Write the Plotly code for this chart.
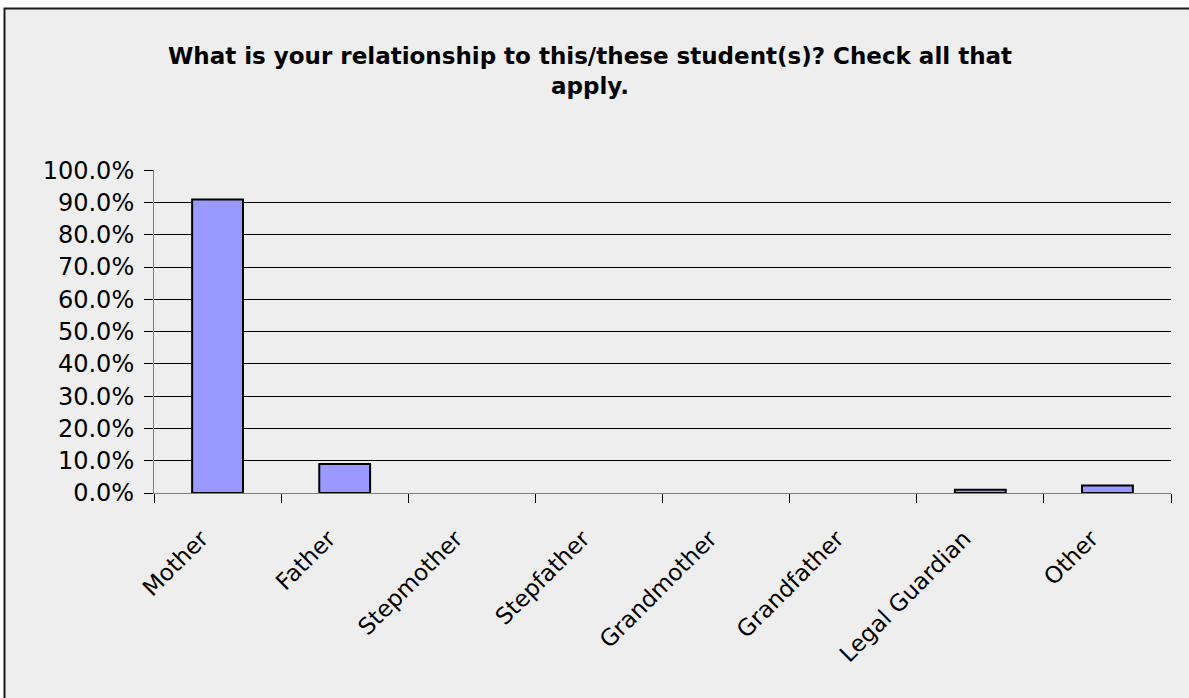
import plotly.graph_objects as go

categories = ["Mother", "Father", "Stepmother", "Stepfather", "Grandmother",
              "Grandfather", "Legal Guardian", "Other"]
values = [0.909, 0.090, 0.0, 0.0, 0.0, 0.0, 0.010, 0.023]
title = "What is your relationship to this/these student(s)? Check all that<br>apply."

W, H = 1189, 698
L, R, T, B = 154, 18, 170, 205
pw, ph = W - L - R, H - T - B

fig = go.Figure(
    go.Bar(
        x=categories,
        y=values,
        width=0.4,
        marker=dict(
            color="#9999ff",
            # empty categories draw no outline
            line=dict(color="black", width=[2 if v > 0 else 0 for v in values]),
        ),
    )
)

# outer chart-area frame
fig.add_shape(
    type="rect", xref="paper", yref="paper", layer="below",
    x0=(4.5 - L) / pw, x1=(W + 10 - L) / pw,
    y0=-(H + 10 - T - ph) / ph, y1=(T + ph - 8.5) / ph,
    fillcolor="#eeeeee", line=dict(color="#1a1a1a", width=2),
)

fig.update_layout(
    width=W, height=H,
    margin=dict(l=L, r=R, t=T, b=B),
    paper_bgcolor="white",
    plot_bgcolor="rgba(0,0,0,0)",
    font=dict(family="DejaVu Sans", color="black", size=20),
    title=dict(
        text=title, x=590 / W, xanchor="center",
        y=1 - 64 / H, yanchor="top",
        font=dict(family="DejaVu Sans", size=23, color="black", weight="bold",
                  lineposition="none"),
    ),
    showlegend=False,
    bargap=0.6,
)
fig.update_xaxes(
    tickangle=-45, tickson="boundaries", ticks="outside", ticklen=9,
    tickcolor="black", showline=True, linecolor="#808080", linewidth=1,
    showgrid=False, tickfont=dict(size=23),
    ticklabelstandoff=22, ticklabelshift=-16,
)
fig.update_yaxes(
    range=[0, 1.0005], dtick=0.1, tickformat=".1%", ticks="outside", ticklen=9,
    tickcolor="black", showline=True, linecolor="#808080", linewidth=1,
    showgrid=True, gridcolor="black", gridwidth=1, zeroline=False,
    tickfont=dict(size=24), ticklabelstandoff=5,
)

fig.write_html(
    "out.html",
    config={"displayModeBar": False},
    post_script="document.body.style.margin='0';",
)
